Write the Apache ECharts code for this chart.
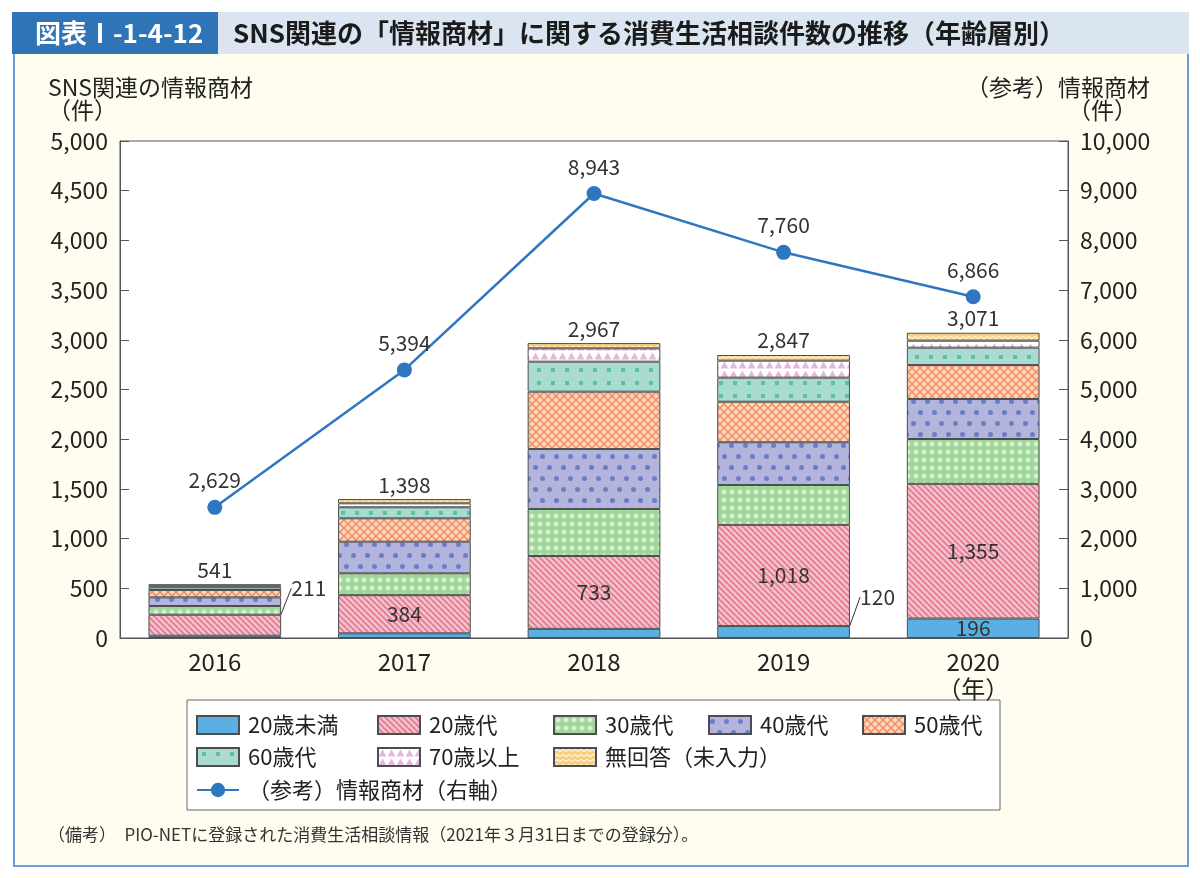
<!DOCTYPE html>
<html>
<head>
<meta charset="utf-8">
<script src="https://cdn.jsdelivr.net/npm/echarts@6/dist/echarts.min.js"></script>
<style>
html,body{margin:0;padding:0;background:#fff;}
#frame{position:absolute;left:13px;top:52px;width:1176px;height:815px;box-sizing:border-box;border:2px solid #6b9ed6;background:#fffdf0;}
#chart{position:absolute;left:0;top:0;width:1200px;height:878px;}
</style>
</head>
<body>
<div id="frame"></div>
<div id="chart"></div>
<script>
// ---- data ----
const years = ['2016', '2017', '2018', '2019', '2020'];
const under20 = [23, 47, 92, 120, 196];
const age20s = [211, 384, 733, 1018, 1355];
const age30s = [88, 220, 473, 401, 451];
const age40s = [87, 318, 603, 430, 402];
const age50s = [74, 235, 577, 408, 342];
const age60s = [27, 111, 302, 242, 175];
const age70plus = [16, 40, 134, 171, 70];
const noAnswer = [15, 43, 53, 57, 80];
const totals = [541, 1398, 2967, 2847, 3071];
const infoProducts = [2629, 5394, 8943, 7760, 6866];
const seriesNames = ['20歳未満', '20歳代', '30歳代', '40歳代', '50歳代', '60歳代', '70歳以上', '無回答（未入力）'];
const lineName = '（参考）情報商材（右軸）';

const fmt = v => Number(v).toLocaleString('en-US');
const FONT = '"Noto Sans CJK JP", "Noto Sans", sans-serif';

function tile(w, h, draw) {
  const c = document.createElement('canvas');
  c.width = w; c.height = h;
  const g = c.getContext('2d');
  draw(g, w, h);
  return { image: c, repeat: 'repeat' };
}
const pats = [
  '#5aafe3',
  tile(6, 6, (g) => {
    g.fillStyle = '#f8c6d0'; g.fillRect(0, 0, 6, 6);
    g.strokeStyle = '#e7819a'; g.lineWidth = 2.2;
    [-6, 0, 6].forEach(k => { g.beginPath(); g.moveTo(k - 1, -1); g.lineTo(k + 7, 7); g.stroke(); });
  }),
  tile(8, 8, (g) => {
    g.fillStyle = '#a0d79a'; g.fillRect(0, 0, 8, 8);
    g.fillStyle = '#d9f1d3';
    g.beginPath(); g.moveTo(4, 1); g.lineTo(7, 4); g.lineTo(4, 7); g.lineTo(1, 4); g.closePath(); g.fill();
  }),
  tile(14, 22, (g) => {
    g.fillStyle = '#b4b5dc'; g.fillRect(0, 0, 14, 22);
    g.fillStyle = '#6a7ec8';
    [[3.5, 5.5], [10.5, 16.5]].forEach(([x, y]) => { g.beginPath(); g.arc(x, y, 2.5, 0, Math.PI * 2); g.fill(); });
  }),
  tile(8, 8, (g) => {
    g.fillStyle = '#fcd6bb'; g.fillRect(0, 0, 8, 8);
    g.strokeStyle = '#ee8a62'; g.lineWidth = 1.4;
    g.beginPath(); g.moveTo(0, 0); g.lineTo(8, 8); g.moveTo(8, 0); g.lineTo(0, 8); g.stroke();
  }),
  tile(14, 13, (g) => {
    g.fillStyle = '#a9dbd3'; g.fillRect(0, 0, 14, 13);
    g.fillStyle = '#5cc398'; g.fillRect(5, 4, 4, 4);
  }),
  tile(9, 9, (g) => {
    g.fillStyle = '#ffffff'; g.fillRect(0, 0, 9, 9);
    g.fillStyle = '#e4b7dc';
    g.beginPath(); g.moveTo(0.5, 8.5); g.lineTo(4.5, 1.5); g.lineTo(8.5, 8.5); g.closePath(); g.fill();
  }),
  tile(6, 5, (g) => {
    g.fillStyle = '#f7cf82'; g.fillRect(0, 0, 6, 5);
    g.strokeStyle = '#fff4da'; g.lineWidth = 1.2;
    g.beginPath(); g.moveTo(0, 3.5); g.lineTo(3, 1.5); g.lineTo(6, 3.5); g.stroke();
  })
];

const values = [under20, age20s, age30s, age40s, age50s, age60s, age70plus, noAnswer];

const labelBase = { fontFamily: FONT, fontSize: 21, color: '#333' };

const barSeries = values.map((arr, si) => {
  const s = {
    name: seriesNames[si],
    type: 'bar',
    stack: 'total',
    barWidth: '70%',
    yAxisIndex: 0,
    itemStyle: { color: pats[si], borderColor: '#4d4d4d', borderWidth: 1 },
    emphasis: { disabled: true },
    data: arr.slice()
  };
  if (si === 0) {
    s.data = arr.map((v, i) => ({ value: v, label: { show: i >= 3 }, labelLine: { show: i === 3, lineStyle: { color: '#333', width: 1 } } }));
    s.label = Object.assign({ show: true, position: 'inside', formatter: p => fmt(p.value) }, labelBase);
    s.labelLayout = p => (p.dataIndex === 3 ? { dx: 94, dy: -35 } : {});
  }
  if (si === 1) {
    s.data = arr.map((v, i) => ({ value: v, labelLine: { show: i === 0, lineStyle: { color: '#333', width: 1 } } }));
    s.label = Object.assign({ show: true, position: 'inside', formatter: p => fmt(p.value) }, labelBase);
    s.labelLayout = p => (p.dataIndex === 0 ? { dx: 94, dy: -37 } : {});
  }
  if (si === 7) {
    s.label = Object.assign({ show: true, position: 'top', distance: 4, formatter: p => fmt(totals[p.dataIndex]) }, labelBase);
  }
  return s;
});

const lineSeries = {
  name: lineName,
  type: 'line',
  yAxisIndex: 1,
  data: infoProducts,
  symbol: 'circle',
  symbolSize: 15,
  z: 10,
  lineStyle: { color: '#2f76c1', width: 2.5 },
  itemStyle: { color: '#2f76c1' },
  emphasis: { disabled: true },
  label: Object.assign({ show: true, position: 'top', distance: 9, formatter: p => fmt(p.value) }, labelBase)
};

// legend placement (icon left x, row top y)
const legendPos = [
  [196, 714], [377, 714], [553, 714], [708, 714], [862, 714],
  [196, 746], [377, 746], [553, 746],
  [196, 779]
];
const legendNames = seriesNames.concat([lineName]);
const legends = legendNames.map((n, i) => ({
  data: [n],
  left: legendPos[i][0],
  top: legendPos[i][1],
  padding: 0,
  itemWidth: 42,
  itemHeight: 18,
  icon: i < 8 ? 'rect' : undefined,
  selectedMode: false,
  textStyle: { fontFamily: FONT, fontSize: 22, color: '#222', padding: [0, 0, 0, 4] }
}));

const axisCommon = {
  axisLine: { show: true, lineStyle: { color: '#555', width: 1 } },
  axisTick: { show: true, inside: true, length: 9, lineStyle: { color: '#555' } },
  splitLine: { show: false },
  axisLabel: { fontFamily: FONT, fontSize: 23, color: '#222', margin: 12, formatter: v => fmt(v) }
};

const chart = echarts.init(document.getElementById('chart'), null, { renderer: 'canvas' });
chart.setOption({
  backgroundColor: 'transparent',
  animation: false,
  textStyle: { fontFamily: FONT },
  grid: { left: 120, right: 132, top: 141, bottom: 240, show: true, backgroundColor: '#fff', borderColor: '#555', borderWidth: 1 },
  legend: legends,
  xAxis: {
    type: 'category',
    data: years,
    axisLine: { lineStyle: { color: '#555' } },
    axisTick: { inside: true, length: 9, lineStyle: { color: '#555' } },
    axisLabel: { fontFamily: FONT, fontSize: 24, color: '#222', margin: 10, lineHeight: 27,
      formatter: v => (v === years[years.length - 1] ? v + '\n（年）' : v) }
  },
  yAxis: [
    Object.assign({ type: 'value', min: 0, max: 5000, interval: 500, position: 'left' }, axisCommon),
    Object.assign({ type: 'value', min: 0, max: 10000, interval: 1000, position: 'right' }, axisCommon)
  ],
  graphic: [
    { type: 'rect', shape: { x: 12, y: 12, width: 1177, height: 42 }, style: { fill: '#dbe5f2' }, silent: true },
    { type: 'rect', shape: { x: 12, y: 12, width: 206, height: 42 }, style: { fill: '#2e74b7' }, silent: true },
    { type: 'text', x: 35, y: 33, style: { text: '図表Ⅰ-1-4-12', fill: '#fff', font: 'bold 26px ' + FONT, verticalAlign: 'middle' }, silent: true },
    { type: 'text', x: 233, y: 33, style: { text: 'SNS関連の「情報商材」に関する消費生活相談件数の推移（年齢層別）', fill: '#1b1b1b', font: 'bold 26px ' + FONT, verticalAlign: 'middle' }, silent: true },
    { type: 'text', x: 48, y: 87, style: { text: 'SNS関連の情報商材', fill: '#222', font: '23px ' + FONT, verticalAlign: 'middle' }, silent: true },
    { type: 'text', x: 48, y: 110, style: { text: '（件）', fill: '#222', font: '23px ' + FONT, verticalAlign: 'middle' }, silent: true },
    { type: 'text', x: 1150, y: 87, style: { text: '（参考）情報商材', fill: '#222', font: '23px ' + FONT, verticalAlign: 'middle', align: 'right' }, silent: true },
    { type: 'text', x: 1137, y: 110, style: { text: '（件）', fill: '#222', font: '23px ' + FONT, verticalAlign: 'middle', align: 'right' }, silent: true },
    { type: 'rect', shape: { x: 187, y: 700, width: 813, height: 110 }, style: { fill: '#fff', stroke: '#666', lineWidth: 1 }, silent: true },
    { type: 'text', x: 48, y: 835, style: { text: '（備考）　PIO-NETに登録された消費生活相談情報（2021年３月31日までの登録分）。', fill: '#333', font: '17px ' + FONT, verticalAlign: 'middle' }, silent: true }
  ],
  series: barSeries.concat([lineSeries])
});
</script>
</body>
</html>
